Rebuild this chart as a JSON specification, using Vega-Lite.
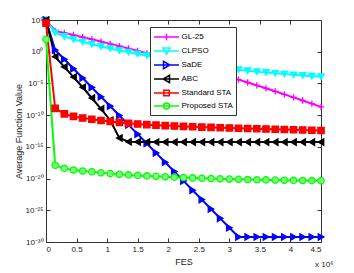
{
"$schema":"https://vega.github.io/schema/vega-lite/v6.json",
"width":275,"height":222,
"autosize":{"type":"none"},
"padding":{"left":46,"top":20,"right":33,"bottom":31},
"background":"white",
"config":{
 "view":{"stroke":"#333","strokeWidth":1},
 "font":"Liberation Sans",
 "axis":{"labelFont":"Liberation Sans","labelFontSize":8,"labelColor":"#222","titleFont":"Liberation Sans","titleFontSize":9,"titleFontWeight":"normal","titleColor":"#222","grid":false,"domain":false,"tickColor":"#333","tickSize":-4,"labelPadding":7},
 "legend":{"orient":"none","legendX":104,"legendY":7,"fillColor":"white","strokeColor":"#333","padding":3,"rowPadding":0,"symbolSize":144,"symbolStrokeWidth":1.5,"symbolOffset":6.5,"labelOffset":8,"labelFont":"Liberation Sans","labelFontSize":8,"labelColor":"#000","titleFontSize":0}
},
"title":{"text":"x 10⁶","orient":"bottom","anchor":"end","fontSize":8,"fontWeight":"normal","font":"Liberation Sans","color":"#222","offset":-5},
"data":{"values":[
{"series":"GL-25","fes":0,"value":1e5},{"series":"GL-25","fes":0.15,"value":1905},{"series":"GL-25","fes":0.3,"value":912},{"series":"GL-25","fes":0.45,"value":427},{"series":"GL-25","fes":0.6,"value":195},{"series":"GL-25","fes":0.75,"value":89.1},{"series":"GL-25","fes":0.9,"value":39.8},{"series":"GL-25","fes":1.05,"value":17.4},{"series":"GL-25","fes":1.2,"value":7.59},{"series":"GL-25","fes":1.35,"value":3.24},{"series":"GL-25","fes":1.5,"value":1.38},{"series":"GL-25","fes":1.65,"value":0.562},{"series":"GL-25","fes":1.8,"value":0.234},{"series":"GL-25","fes":1.95,"value":0.0933},{"series":"GL-25","fes":2.1,"value":0.0372},{"series":"GL-25","fes":2.25,"value":0.0148},{"series":"GL-25","fes":2.4,"value":5.62e-3},{"series":"GL-25","fes":2.55,"value":2.14e-3},{"series":"GL-25","fes":2.7,"value":8.13e-4},{"series":"GL-25","fes":2.85,"value":3.02e-4},{"series":"GL-25","fes":3,"value":1.10e-4},{"series":"GL-25","fes":3.15,"value":3.98e-5},{"series":"GL-25","fes":3.3,"value":1.41e-5},{"series":"GL-25","fes":3.45,"value":4.90e-6},{"series":"GL-25","fes":3.6,"value":1.70e-6},{"series":"GL-25","fes":3.75,"value":5.75e-7},{"series":"GL-25","fes":3.9,"value":1.91e-7},{"series":"GL-25","fes":4.05,"value":6.31e-8},{"series":"GL-25","fes":4.2,"value":2.04e-8},{"series":"GL-25","fes":4.35,"value":6.61e-9},{"series":"GL-25","fes":4.5,"value":2.04e-9},
{"series":"CLPSO","fes":0,"value":1e5},{"series":"CLPSO","fes":0.15,"value":1000},{"series":"CLPSO","fes":0.3,"value":251},{"series":"CLPSO","fes":0.45,"value":89.1},{"series":"CLPSO","fes":0.6,"value":35.5},{"series":"CLPSO","fes":0.75,"value":15.1},{"series":"CLPSO","fes":0.9,"value":6.76},{"series":"CLPSO","fes":1.05,"value":3.16},{"series":"CLPSO","fes":1.2,"value":1.58},{"series":"CLPSO","fes":1.35,"value":0.832},{"series":"CLPSO","fes":1.5,"value":0.447},{"series":"CLPSO","fes":1.65,"value":0.251},{"series":"CLPSO","fes":1.8,"value":0.132},{"series":"CLPSO","fes":1.95,"value":0.0692},{"series":"CLPSO","fes":2.1,"value":0.038},{"series":"CLPSO","fes":2.25,"value":0.0219},{"series":"CLPSO","fes":2.4,"value":0.0129},{"series":"CLPSO","fes":2.55,"value":7.94e-3},{"series":"CLPSO","fes":2.7,"value":5.01e-3},{"series":"CLPSO","fes":2.85,"value":3.24e-3},{"series":"CLPSO","fes":3,"value":2.14e-3},{"series":"CLPSO","fes":3.15,"value":1.48e-3},{"series":"CLPSO","fes":3.3,"value":1.02e-3},{"series":"CLPSO","fes":3.45,"value":7.24e-4},{"series":"CLPSO","fes":3.6,"value":5.37e-4},{"series":"CLPSO","fes":3.75,"value":3.98e-4},{"series":"CLPSO","fes":3.9,"value":3.02e-4},{"series":"CLPSO","fes":4.05,"value":2.29e-4},{"series":"CLPSO","fes":4.2,"value":1.82e-4},{"series":"CLPSO","fes":4.35,"value":1.41e-4},{"series":"CLPSO","fes":4.5,"value":1.15e-4},
{"series":"SaDE","fes":0,"value":1e5},{"series":"SaDE","fes":0.15,"value":1.86},{"series":"SaDE","fes":0.3,"value":0.0631},{"series":"SaDE","fes":0.45,"value":2.09e-3},{"series":"SaDE","fes":0.6,"value":7.08e-5},{"series":"SaDE","fes":0.75,"value":2.34e-6},{"series":"SaDE","fes":0.9,"value":7.94e-8},{"series":"SaDE","fes":1.05,"value":2.63e-9},{"series":"SaDE","fes":1.2,"value":8.91e-11},{"series":"SaDE","fes":1.35,"value":2.95e-12},{"series":"SaDE","fes":1.5,"value":1e-13},{"series":"SaDE","fes":1.65,"value":3.31e-15},{"series":"SaDE","fes":1.8,"value":1.12e-16},{"series":"SaDE","fes":1.95,"value":3.80e-18},{"series":"SaDE","fes":2.1,"value":1.26e-19},{"series":"SaDE","fes":2.25,"value":4.27e-21},{"series":"SaDE","fes":2.4,"value":1.41e-22},{"series":"SaDE","fes":2.55,"value":4.79e-24},{"series":"SaDE","fes":2.7,"value":1.58e-25},{"series":"SaDE","fes":2.85,"value":5.37e-27},{"series":"SaDE","fes":3,"value":1.78e-28},{"series":"SaDE","fes":3.15,"value":6.31e-30},{"series":"SaDE","fes":3.3,"value":6.31e-30},{"series":"SaDE","fes":3.45,"value":6.31e-30},{"series":"SaDE","fes":3.6,"value":6.31e-30},{"series":"SaDE","fes":3.75,"value":6.31e-30},{"series":"SaDE","fes":3.9,"value":6.31e-30},{"series":"SaDE","fes":4.05,"value":6.31e-30},{"series":"SaDE","fes":4.2,"value":6.31e-30},{"series":"SaDE","fes":4.35,"value":6.31e-30},{"series":"SaDE","fes":4.5,"value":6.31e-30},
{"series":"ABC","fes":0,"value":1e5},{"series":"ABC","fes":0.15,"value":0.158},{"series":"ABC","fes":0.3,"value":3.98e-3},{"series":"ABC","fes":0.45,"value":1e-4},{"series":"ABC","fes":0.6,"value":2.51e-6},{"series":"ABC","fes":0.75,"value":5.01e-8},{"series":"ABC","fes":0.9,"value":1e-9},{"series":"ABC","fes":1.05,"value":1.58e-11},{"series":"ABC","fes":1.2,"value":2.51e-14},{"series":"ABC","fes":1.35,"value":6.31e-15},{"series":"ABC","fes":1.5,"value":6.03e-15},{"series":"ABC","fes":1.65,"value":5.89e-15},{"series":"ABC","fes":1.8,"value":5.75e-15},{"series":"ABC","fes":1.95,"value":5.62e-15},{"series":"ABC","fes":2.1,"value":5.62e-15},{"series":"ABC","fes":2.25,"value":5.62e-15},{"series":"ABC","fes":2.4,"value":5.62e-15},{"series":"ABC","fes":2.55,"value":5.62e-15},{"series":"ABC","fes":2.7,"value":5.62e-15},{"series":"ABC","fes":2.85,"value":5.62e-15},{"series":"ABC","fes":3,"value":5.62e-15},{"series":"ABC","fes":3.15,"value":5.62e-15},{"series":"ABC","fes":3.3,"value":5.62e-15},{"series":"ABC","fes":3.45,"value":5.62e-15},{"series":"ABC","fes":3.6,"value":5.62e-15},{"series":"ABC","fes":3.75,"value":5.62e-15},{"series":"ABC","fes":3.9,"value":5.62e-15},{"series":"ABC","fes":4.05,"value":5.62e-15},{"series":"ABC","fes":4.2,"value":5.62e-15},{"series":"ABC","fes":4.35,"value":5.62e-15},{"series":"ABC","fes":4.5,"value":5.62e-15},
{"series":"Standard STA","fes":0,"value":31600},{"series":"Standard STA","fes":0.15,"value":1.17e-9},{"series":"Standard STA","fes":0.3,"value":1.58e-10},{"series":"Standard STA","fes":0.45,"value":6.31e-11},{"series":"Standard STA","fes":0.6,"value":3.55e-11},{"series":"Standard STA","fes":0.75,"value":2.24e-11},{"series":"Standard STA","fes":0.9,"value":1.41e-11},{"series":"Standard STA","fes":1.05,"value":1e-11},{"series":"Standard STA","fes":1.2,"value":7.08e-12},{"series":"Standard STA","fes":1.35,"value":5.25e-12},{"series":"Standard STA","fes":1.5,"value":3.98e-12},{"series":"Standard STA","fes":1.65,"value":3.16e-12},{"series":"Standard STA","fes":1.8,"value":2.63e-12},{"series":"Standard STA","fes":1.95,"value":2.24e-12},{"series":"Standard STA","fes":2.1,"value":1.91e-12},{"series":"Standard STA","fes":2.25,"value":1.66e-12},{"series":"Standard STA","fes":2.4,"value":1.48e-12},{"series":"Standard STA","fes":2.55,"value":1.32e-12},{"series":"Standard STA","fes":2.7,"value":1.17e-12},{"series":"Standard STA","fes":2.85,"value":1.05e-12},{"series":"Standard STA","fes":3,"value":9.55e-13},{"series":"Standard STA","fes":3.15,"value":8.71e-13},{"series":"Standard STA","fes":3.3,"value":7.94e-13},{"series":"Standard STA","fes":3.45,"value":7.24e-13},{"series":"Standard STA","fes":3.6,"value":6.61e-13},{"series":"Standard STA","fes":3.75,"value":6.03e-13},{"series":"Standard STA","fes":3.9,"value":5.50e-13},{"series":"Standard STA","fes":4.05,"value":5.01e-13},{"series":"Standard STA","fes":4.2,"value":4.57e-13},{"series":"Standard STA","fes":4.35,"value":4.17e-13},{"series":"Standard STA","fes":4.5,"value":3.80e-13},
{"series":"Proposed STA","fes":0,"value":89.1},{"series":"Proposed STA","fes":0.15,"value":1.26e-18},{"series":"Proposed STA","fes":0.3,"value":3.98e-19},{"series":"Proposed STA","fes":0.45,"value":2.24e-19},{"series":"Proposed STA","fes":0.6,"value":1.58e-19},{"series":"Proposed STA","fes":0.75,"value":1.20e-19},{"series":"Proposed STA","fes":0.9,"value":7.94e-20},{"series":"Proposed STA","fes":1.05,"value":6.03e-20},{"series":"Proposed STA","fes":1.2,"value":4.79e-20},{"series":"Proposed STA","fes":1.35,"value":3.80e-20},{"series":"Proposed STA","fes":1.5,"value":3.16e-20},{"series":"Proposed STA","fes":1.65,"value":2.63e-20},{"series":"Proposed STA","fes":1.8,"value":2.24e-20},{"series":"Proposed STA","fes":1.95,"value":1.91e-20},{"series":"Proposed STA","fes":2.1,"value":1.66e-20},{"series":"Proposed STA","fes":2.25,"value":1.45e-20},{"series":"Proposed STA","fes":2.4,"value":1.26e-20},{"series":"Proposed STA","fes":2.55,"value":1.12e-20},{"series":"Proposed STA","fes":2.7,"value":1.00e-20},{"series":"Proposed STA","fes":2.85,"value":9.12e-21},{"series":"Proposed STA","fes":3,"value":8.32e-21},{"series":"Proposed STA","fes":3.15,"value":7.59e-21},{"series":"Proposed STA","fes":3.3,"value":7.08e-21},{"series":"Proposed STA","fes":3.45,"value":6.61e-21},{"series":"Proposed STA","fes":3.6,"value":6.17e-21},{"series":"Proposed STA","fes":3.75,"value":5.75e-21},{"series":"Proposed STA","fes":3.9,"value":5.37e-21},{"series":"Proposed STA","fes":4.05,"value":5.13e-21},{"series":"Proposed STA","fes":4.2,"value":4.90e-21},{"series":"Proposed STA","fes":4.35,"value":4.68e-21},{"series":"Proposed STA","fes":4.5,"value":4.47e-21}
]},
"layer":[
 {"mark":{"type":"line","strokeWidth":2},
  "encoding":{
   "x":{"field":"fes","type":"quantitative","scale":{"domain":[0,4.5],"nice":false,"zero":false},"axis":{"orient":"bottom","values":[0,0.5,1,1.5,2,2.5,3,3.5,4,4.5],"labelExpr":"format(datum.value,'~g')","title":"FES","titlePadding":4}},
   "y":{"field":"value","type":"quantitative","scale":{"type":"log","domain":[1e-30,1e5],"nice":false},"axis":{"orient":"left","values":[1e5,1,1e-5,1e-10,1e-15,1e-20,1e-25,1e-30],"labelExpr":"datum.value > 1e4 ? '10⁵' : datum.value > 0.1 ? '10⁰' : datum.value > 1e-6 ? '10⁻⁵' : datum.value > 1e-11 ? '10⁻¹⁰' : datum.value > 1e-16 ? '10⁻¹⁵' : datum.value > 1e-21 ? '10⁻²⁰' : datum.value > 1e-26 ? '10⁻²⁵' : '10⁻³⁰'","title":"Average Function Value","titlePadding":2}},
   "color":{"field":"series","type":"nominal","scale":{"domain":["GL-25","CLPSO","SaDE","ABC","Standard STA","Proposed STA"],"range":["#ff00ff","#00ffff","#0000ff","#000000","#ff0000","#00ff00"]},"legend":null}
  }},
 {"mark":{"type":"point","size":40,"strokeWidth":1.3,"opacity":1},
  "encoding":{
   "x":{"field":"fes","type":"quantitative","axis":{"orient":"top","labels":false,"title":null,"values":[0,0.5,1,1.5,2,2.5,3,3.5,4,4.5]}},
   "y":{"field":"value","type":"quantitative","axis":{"orient":"right","labels":false,"title":null,"values":[1e5,1,1e-5,1e-10,1e-15,1e-20,1e-25,1e-30]}},
   "fill":{"field":"series","type":"nominal","scale":{"domain":["GL-25","CLPSO","SaDE","ABC","Standard STA","Proposed STA"],"range":["#ff00ff","#00ffff","#0000ff","#000000","#ff0000","#80ff80"]},"legend":null},
   "stroke":{"field":"series","type":"nominal","scale":{"domain":["GL-25","CLPSO","SaDE","ABC","Standard STA","Proposed STA"],"range":["#ff00ff","#00ffff","#0000ff","#000000","#ff0000","#00ff00"]},"legend":null},
   "shape":{"field":"series","type":"nominal","scale":{"domain":["GL-25","CLPSO","SaDE","ABC","Standard STA","Proposed STA"],"range":["M-1,0H1M0,-1V1","triangle-down","triangle-right","triangle-left","square","circle"]},"legend":null}
  }},
 {"mark":{"type":"point","size":144,"opacity":0},
  "encoding":{
   "x":{"field":"fes","type":"quantitative","axis":null},
   "y":{"field":"value","type":"quantitative","axis":null},
   "fill":{"field":"series","type":"nominal","scale":{"domain":["GL-25","CLPSO","SaDE","ABC","Standard STA","Proposed STA"],"range":["#ff00ff","#00ffff","#0000ff","#000000","#ff0000","#80ff80"]},"legend":{"title":null}},
   "stroke":{"field":"series","type":"nominal","scale":{"domain":["GL-25","CLPSO","SaDE","ABC","Standard STA","Proposed STA"],"range":["#ff00ff","#00ffff","#0000ff","#000000","#ff0000","#00ff00"]},"legend":{"title":null}},
   "shape":{"field":"series","type":"nominal","scale":{"domain":["GL-25","CLPSO","SaDE","ABC","Standard STA","Proposed STA"],"range":["M-2.08,0H2.08M-0.55,0H0.55M0,-0.55V0.55","M-2.08,0H2.08M-0.6,-0.5H0.6L0,0.55Z","M-2.08,0H2.08M-0.5,-0.6V0.6L0.55,0Z","M-2.08,0H2.08M0.5,-0.6V0.6L-0.55,0Z","M-2.08,0H2.08M-0.45,-0.45H0.45V0.45H-0.45Z","M-2.08,0H2.08M0.5,0A0.5,0.5,0,1,1,-0.5,0A0.5,0.5,0,1,1,0.5,0Z"]},"legend":{"title":null}}
  }}
],
"resolve":{"scale":{"color":"independent","fill":"independent","stroke":"independent","shape":"independent"},"axis":{"x":"independent","y":"independent"}}
}
